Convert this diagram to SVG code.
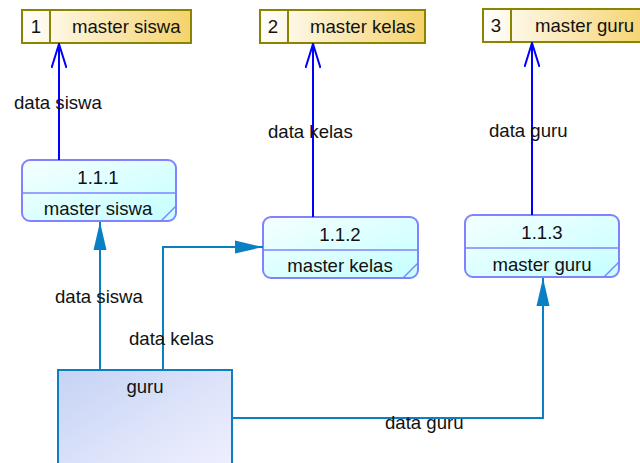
<svg xmlns="http://www.w3.org/2000/svg" width="640" height="463" viewBox="0 0 640 463">
  <defs>
    <linearGradient id="storeFill" x1="0" y1="0" x2="1" y2="0">
      <stop offset="0" stop-color="#ffffff"/>
      <stop offset="1" stop-color="#f5d26a"/>
    </linearGradient>
    <linearGradient id="procFill" x1="0" y1="0" x2="1" y2="1">
      <stop offset="0" stop-color="#f6ffff"/>
      <stop offset="1" stop-color="#c4ffff"/>
    </linearGradient>
    <linearGradient id="entityFill" x1="0" y1="0" x2="1" y2="1">
      <stop offset="0" stop-color="#c6d3f4"/>
      <stop offset="1" stop-color="#f2f2ff"/>
    </linearGradient>
    <!-- open "V" head for flows into stores -->
    <marker id="openHead" viewBox="0 0 26 16" refX="25" refY="8" markerWidth="26" markerHeight="16" markerUnits="userSpaceOnUse" orient="auto">
      <polyline points="1,0.5 25,8 1,15.5" fill="none" stroke="#0000ff" stroke-width="2"/>
    </marker>
    <!-- filled head for flows from the entity -->
    <marker id="solidHead" viewBox="0 0 28 14" refX="28" refY="7" markerWidth="28" markerHeight="14" markerUnits="userSpaceOnUse" orient="auto">
      <polygon points="0,0.5 28,7 0,13.5" fill="#0a7fc4"/>
    </marker>
  </defs>
  <style>
    text { font-family: "Liberation Sans", Arial, sans-serif; font-size: 18.6px; fill: #111111; }
    .store { fill: url(#storeFill); stroke: #8a8500; stroke-width: 2; }
    .storeDiv { stroke: #8a8500; stroke-width: 2; }
    .proc { fill: url(#procFill); stroke: #8282ff; stroke-width: 2; }
    .procLine { stroke: #8282ff; stroke-width: 1.5; fill: none; }
    .entity { fill: url(#entityFill); stroke: #0a7fc4; stroke-width: 2; }
    .flowStore { stroke: #0000ff; stroke-width: 2; fill: none; }
    .flowIn { stroke: #0a7fc4; stroke-width: 2; fill: none; }
    .mid { text-anchor: middle; }
  </style>

  <!-- data stores -->
  <g id="store-1">
    <rect class="store" x="22" y="10" width="169" height="33"/>
    <line class="storeDiv" x1="50" y1="10" x2="50" y2="43"/>
    <text x="36" y="33" class="mid">1</text>
    <text x="72" y="33">master siswa</text>
  </g>
  <g id="store-2">
    <rect class="store" x="260" y="10" width="165" height="33"/>
    <line class="storeDiv" x1="288" y1="10" x2="288" y2="43"/>
    <text x="273" y="33" class="mid">2</text>
    <text x="310" y="33">master kelas</text>
  </g>
  <g id="store-3">
    <rect class="store" x="483" y="9" width="170" height="33"/>
    <line class="storeDiv" x1="511" y1="9" x2="511" y2="42"/>
    <text x="496" y="32" class="mid">3</text>
    <text x="535" y="32">master guru</text>
  </g>

  <!-- processes -->
  <g id="proc-1-1-1">
    <rect class="proc" x="22" y="160" width="154" height="61" rx="8"/>
    <line class="procLine" x1="22" y1="193" x2="176" y2="193"/>
    <line class="procLine" x1="161" y1="221" x2="176" y2="206"/>
    <text x="98" y="184" class="mid">1.1.1</text>
    <text x="98" y="215" class="mid">master siswa</text>
  </g>
  <g id="proc-1-1-2">
    <rect class="proc" x="263" y="217" width="155" height="61" rx="8"/>
    <line class="procLine" x1="263" y1="250" x2="418" y2="250"/>
    <line class="procLine" x1="403" y1="278" x2="418" y2="263"/>
    <text x="340" y="241" class="mid">1.1.2</text>
    <text x="340" y="272" class="mid">master kelas</text>
  </g>
  <g id="proc-1-1-3">
    <rect class="proc" x="465" y="215" width="154" height="62" rx="8"/>
    <line class="procLine" x1="465" y1="248" x2="619" y2="248"/>
    <line class="procLine" x1="604" y1="277" x2="619" y2="262"/>
    <text x="542" y="239" class="mid">1.1.3</text>
    <text x="542" y="271" class="mid">master guru</text>
  </g>

  <!-- external entity -->
  <g id="entity-guru">
    <rect class="entity" x="58" y="370" width="174" height="110"/>
    <text x="145" y="393" class="mid">guru</text>
  </g>

  <!-- data flows -->
  <g id="flows">
    <line class="flowStore" x1="59" y1="160" x2="59" y2="44" marker-end="url(#openHead)"/>
    <line class="flowStore" x1="313" y1="217" x2="313" y2="44" marker-end="url(#openHead)"/>
    <line class="flowStore" x1="532" y1="215" x2="532" y2="43" marker-end="url(#openHead)"/>
    <polyline class="flowIn" points="100,370 100,222" marker-end="url(#solidHead)"/>
    <polyline class="flowIn" points="163,370 163,247 263,247" marker-end="url(#solidHead)"/>
    <polyline class="flowIn" points="232,418 543,418 543,278" marker-end="url(#solidHead)"/>
  </g>

  <!-- flow labels -->
  <g id="labels">
    <text x="14" y="109">data siswa</text>
    <text x="268" y="138">data kelas</text>
    <text x="489" y="137">data guru</text>
    <text x="55" y="303">data siswa</text>
    <text x="129" y="345">data kelas</text>
    <text x="385" y="429">data guru</text>
  </g>
</svg>
